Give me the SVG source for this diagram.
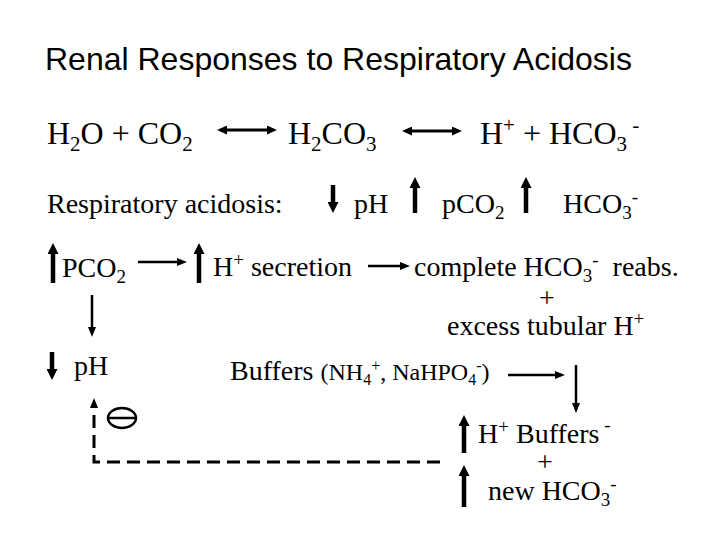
<svg xmlns="http://www.w3.org/2000/svg" width="720" height="540" viewBox="0 0 720 540">
<style>
  text { font-family: "Liberation Serif", "Times New Roman", serif; fill: #000; }
  .title { font-family: "Liberation Sans", Arial, sans-serif; font-size: 32px; }
  .eq { font-size: 32px; }
  .t { font-size: 28px; }
  .sm { font-size: 24px; }
  .thick { stroke: #000; stroke-width: 4.5; fill: none; }
  .thin { stroke: #000; stroke-width: 2.5; fill: none; }
  .dbl { stroke: #000; stroke-width: 3; fill: none; }
  .dash { stroke: #000; stroke-width: 3; fill: none; stroke-dasharray: 13 7; }
</style>
<defs>
  <marker id="hThick" viewBox="0 0 11 11" refX="1" refY="5.5" markerWidth="11" markerHeight="11" markerUnits="userSpaceOnUse" orient="auto">
    <path d="M0,0 L11,5.5 L0,11 Z" fill="#000"/>
  </marker>
  <marker id="hThin" viewBox="0 0 10 8" refX="1" refY="4" markerWidth="10" markerHeight="8" markerUnits="userSpaceOnUse" orient="auto">
    <path d="M0,0 L10,4 L0,8 Z" fill="#000"/>
  </marker>
  <marker id="hDbl" viewBox="0 0 10 9" refX="1" refY="4.5" markerWidth="10" markerHeight="9" markerUnits="userSpaceOnUse" orient="auto-start-reverse">
    <path d="M0,0 L10,4.5 L0,9 Z" fill="#000"/>
  </marker>
</defs>
<rect width="720" height="540" fill="#fff"/>

<g id="title"><text class="title" x="45" y="70">Renal Responses to Respiratory Acidosis</text></g>

<g id="n-h2o-co2"><text class="eq" x="47" y="144">H<tspan font-size="21" dy="7">2</tspan><tspan dy="-7">O + CO</tspan><tspan font-size="21" dy="7">2</tspan></text></g>
<g id="n-h2co3"><text class="eq" x="288" y="144">H<tspan font-size="21" dy="7">2</tspan><tspan dy="-7">CO</tspan><tspan font-size="21" dy="7">3</tspan></text></g>
<g id="n-h-hco3"><text class="eq" x="480" y="144">H<tspan font-size="21" dy="-12">+</tspan><tspan dy="12"> + HCO</tspan><tspan font-size="21" dy="7">3</tspan><tspan font-size="21" dy="-19"> -</tspan></text></g>

<g id="n-resp"><text class="t" x="47" y="213">Respiratory acidosis:</text></g>
<g id="n-ph1"><text class="t" x="354" y="213">pH</text></g>
<g id="n-pco2a"><text class="t" x="442" y="213">pCO<tspan font-size="19" dy="6">2</tspan></text></g>
<g id="n-hco3a"><text class="t" x="563" y="213">HCO<tspan font-size="19" dy="6">3</tspan><tspan font-size="19" dy="-16">-</tspan></text></g>

<g id="n-pco2b"><text class="t" x="62" y="277">PCO<tspan font-size="19" dy="6">2</tspan></text></g>
<g id="n-hsec"><text class="t" x="213" y="276">H<tspan font-size="19" dy="-10">+</tspan><tspan dy="10"> secretion</tspan></text></g>
<g id="n-complete"><text class="t" x="414" y="276">complete HCO<tspan font-size="19" dy="6">3</tspan><tspan font-size="19" dy="-16">-</tspan><tspan dy="10" xml:space="preserve">  reabs.</tspan></text>
  <text class="t" x="547" y="307" text-anchor="middle">+</text>
  <text class="t" x="447" y="335">excess tubular H<tspan font-size="19" dy="-10">+</tspan></text></g>

<g id="n-ph2"><text class="t" x="74" y="375">pH</text></g>
<g id="n-buffers"><text class="t" x="230" y="380">Buffers <tspan class="sm">(NH</tspan><tspan font-size="16" dy="5">4</tspan><tspan font-size="16" dy="-14">+</tspan><tspan class="sm" dy="9">, NaHPO</tspan><tspan font-size="16" dy="5">4</tspan><tspan font-size="16" dy="-14">-</tspan><tspan class="sm" dy="9">)</tspan></text></g>

<g id="n-hbuf"><text class="t" x="478" y="443">H<tspan font-size="19" dy="-10">+</tspan><tspan dy="10" xml:space="preserve"> Buffers</tspan><tspan font-size="19" dy="-12"> -</tspan></text>
  <text class="t" x="545" y="471" text-anchor="middle">+</text>
  <text class="t" x="488" y="500">new HCO<tspan font-size="19" dy="6">3</tspan><tspan font-size="19" dy="-16">-</tspan></text></g>

<g id="n-inhibit">
  <ellipse cx="122" cy="418" rx="14" ry="10" fill="none" stroke="#000" stroke-width="2.5"/>
  <line x1="108" y1="418" x2="136" y2="418" stroke="#000" stroke-width="2.5"/>
</g>

<g id="connectors">
  <line class="dbl" x1="226" y1="130" x2="268" y2="130" marker-start="url(#hDbl)" marker-end="url(#hDbl)"/>
  <line class="dbl" x1="411" y1="131" x2="453" y2="131" marker-start="url(#hDbl)" marker-end="url(#hDbl)"/>
  <line class="thick" x1="333" y1="185" x2="333" y2="203" marker-end="url(#hThick)"/>
  <line class="thick" x1="415" y1="213" x2="415" y2="187" marker-end="url(#hThick)"/>
  <line class="thick" x1="526" y1="213" x2="526" y2="187" marker-end="url(#hThick)"/>
  <line class="thick" x1="53" y1="283" x2="53" y2="253" marker-end="url(#hThick)"/>
  <line class="thin" x1="138" y1="262" x2="178" y2="262" marker-end="url(#hThin)"/>
  <line class="thick" x1="199" y1="283" x2="199" y2="253" marker-end="url(#hThick)"/>
  <line class="thin" x1="368" y1="266" x2="401" y2="266" marker-end="url(#hThin)"/>
  <line class="thin" x1="92" y1="295" x2="92" y2="328" marker-end="url(#hThin)"/>
  <line class="thick" x1="52" y1="352" x2="52" y2="370" marker-end="url(#hThick)"/>
  <line class="thin" x1="508" y1="375" x2="556" y2="375" marker-end="url(#hThin)"/>
  <line class="thin" x1="576" y1="365" x2="576" y2="404" marker-end="url(#hThin)"/>
  <line class="thick" x1="464" y1="453" x2="464" y2="425" marker-end="url(#hThick)"/>
  <line class="thick" x1="464" y1="507" x2="464" y2="475" marker-end="url(#hThick)"/>
  <path class="dash" d="M440,462 H94 V407" marker-end="url(#hThin)"/>
</g>
</svg>
